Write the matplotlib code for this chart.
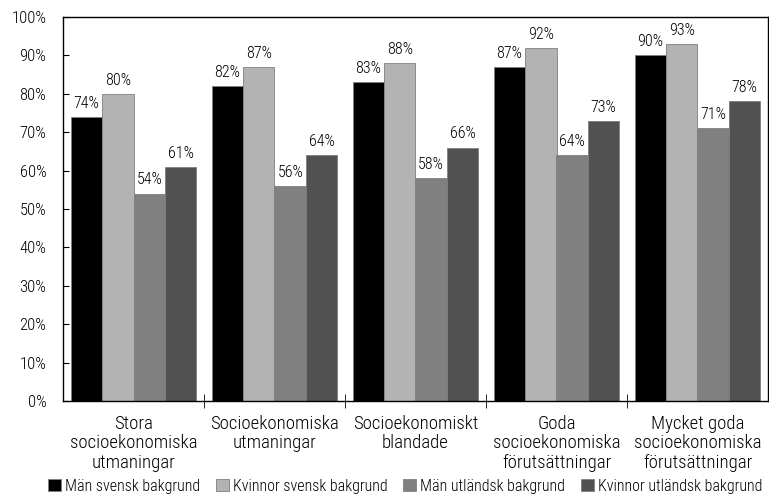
import numpy as np
import matplotlib.pyplot as plt
from matplotlib.ticker import FixedLocator, NullFormatter

plt.rcParams['font.family'] = ['Roboto Condensed', 'DejaVu Sans']
plt.rcParams['font.weight'] = 'light'

# ------------------------------------------------
# Data
# ------------------------------------------------
categories = [
    "Stora\nsocioekonomiska\nutmaningar",
    "Socioekonomiska\nutmaningar",
    "Socioekonomiskt\nblandade",
    "Goda\nsocioekonomiska\nförutsättningar",
    "Mycket goda\nsocioekonomiska\nförutsättningar",
]
series_names = [
    "Män svensk bakgrund",
    "Kvinnor svensk bakgrund",
    "Män utländsk bakgrund",
    "Kvinnor utländsk bakgrund",
]
man_svensk = [74, 82, 83, 87, 90]
kvinnor_svensk = [80, 87, 88, 92, 93]
man_utlandsk = [54, 56, 58, 64, 71]
kvinnor_utlandsk = [61, 64, 66, 73, 78]

series = [man_svensk, kvinnor_svensk, man_utlandsk, kvinnor_utlandsk]
colors = ["#000000", "#b3b3b3", "#808080", "#515151"]

# ------------------------------------------------
# Plot
# ------------------------------------------------
fig = plt.figure(figsize=(7.69, 4.96), dpi=100)
ax = fig.add_axes([63 / 769, 1 - 401 / 496, 705 / 769, 384 / 496])

x = np.arange(len(categories))
width = 0.223
for i, (vals, col, name) in enumerate(zip(series, colors, series_names)):
    pos = x + (i - 1.5) * width
    bars = ax.bar(pos, vals, width, color=col, edgecolor="#7f7f7f",
                  linewidth=0.6, label=name)
    for b, v in zip(bars, vals):
        ax.text(b.get_x() + b.get_width() / 2, v + 1.6, f"{v}%",
                ha="center", va="bottom", fontsize=11.5)

ax.set_xlim(-0.5, len(categories) - 0.5)
ax.set_ylim(0, 100)
ax.set_yticks(np.arange(0, 101, 10))
ax.set_yticklabels([f"{t}%" for t in range(0, 101, 10)], fontsize=12)
ax.tick_params(axis="y", direction="in", length=4, pad=12)

# category labels centred, tick marks between groups
ax.set_xticks(x)
ax.set_xticklabels(categories, fontsize=13.5, linespacing=1.1)
ax.tick_params(axis="x", which="major", length=0, pad=10)
ax.xaxis.set_minor_locator(FixedLocator(np.arange(0.5, len(categories) - 0.5, 1)))
ax.xaxis.set_minor_formatter(NullFormatter())
ax.tick_params(axis="x", which="minor", direction="inout", length=10)

for s in ax.spines.values():
    s.set_linewidth(1.0)

ax.legend(loc="center", bbox_to_anchor=(0.485, -0.222), ncol=4,
          frameon=False, fontsize=11.5, handlelength=0.8, handleheight=0.8,
          handletextpad=0.25, columnspacing=1.0, borderaxespad=0)

fig.savefig("out.png", dpi=100)
